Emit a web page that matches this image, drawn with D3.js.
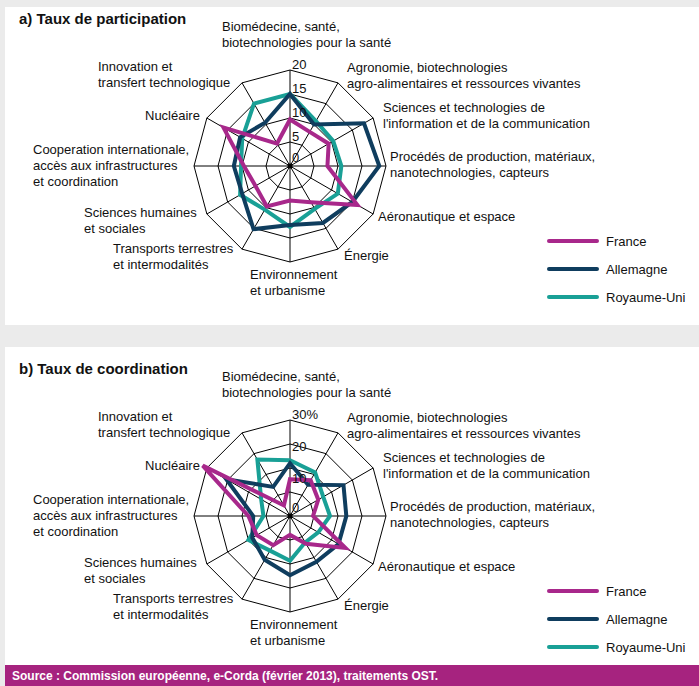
<!DOCTYPE html>
<html>
<head>
<meta charset="utf-8">
<script src="https://cdn.jsdelivr.net/npm/d3@7"></script>
<style>
  body { margin: 0; background: #ebebeb; }
  svg { display: block; font-family: "Liberation Sans", Arial, sans-serif; }
</style>
</head>
<body>
<svg id="chart" width="699" height="686"></svg>
<script>
// axis labels, clockwise from the top
let categories = [
    ["Biomédecine, santé,", "biotechnologies pour la santé"],
    ["Agronomie, biotechnologies", "agro-alimentaires et ressources vivantes"],
    ["Sciences et technologies de", "l'information et de la communication"],
    ["Procédés de production, matériaux,", "nanotechnologies, capteurs"],
    ["Aéronautique et espace"],
    ["Énergie"],
    ["Environnement", "et urbanisme"],
    ["Transports terrestres", "et intermodalités"],
    ["Sciences humaines", "et sociales"],
    ["Cooperation internationale,", "accès aux infrastructures", "et coordination"],
    ["Nucléaire"],
    ["Innovation et", "transfert technologique"]
]

let seriesNames = ["France", "Allemagne", "Royaume-Uni"]

// a) taux de participation
let participationFrance = [9.7, 8.2, 9.3, 7.8, 16.2, 8.7, 7.2, 9.7, 8.3, 9.6, 16, 5.4]
let participationAllemagne = [15, 10, 17.8, 18.6, 15, 13.7, 12.3, 15.2, 11.5, 11.7, 12, 10.4]
let participationRoyaumeUni = [15, 10.8, 10.4, 10.7, 11.5, 10.3, 12.7, 10.5, 12, 10.2, 11.5, 15]
let participationTicks = [0, 5, 10, 15, 20]
let participationTickLabels = ["0", "5", "10", "15", "20"]

// b) taux de coordination
let coordinationFrance = [11.5, 12.9, 10.2, 7.2, 20, 10, 5.9, 10.5, 12, 13, 31.5, 3.8]
let coordinationAllemagne = [16.5, 11.3, 19.3, 17.6, 17.5, 16.5, 18.5, 15.8, 13.6, 11.5, 23, 10.5]
let coordinationRoyaumeUni = [17.4, 15.7, 12, 12.5, 10.2, 9.5, 14, 12.5, 15, 8.3, 10.4, 20.4]
let coordinationTicks = [0, 10, 20, 30]
let coordinationTickLabels = ["0", "10", "20", "30%"]

let colors = {
    "France": "#a8288b",
    "Allemagne": "#0f3d5e",
    "Royaume-Uni": "#19a096"
}

// label anchor offsets from the chart centre (left edge, first baseline)
let labelOffsets = [
    [-68, -135], [57, -94], [93, -54], [100, -5], [88, 55], [54, 94],
    [-40, 113], [-177, 87], [-206, 51], [-257, -12], [-145, -46], [-192, -95]
]

let svg = d3.select('#chart')
let radius = 96
let lineHeight = 16

// background panels
svg.append('rect').attr('x', 5).attr('y', 7).attr('width', 694).attr('height', 318).attr('fill', '#fff')
svg.append('rect').attr('x', 5).attr('y', 347).attr('width', 694).attr('height', 318).attr('fill', '#fff')
svg.append('rect').attr('x', 5).attr('y', 665).attr('width', 694).attr('height', 21).attr('fill', '#a6237f')
svg.append('text')
    .attr('x', 12).attr('y', 680)
    .attr('fill', '#fff').attr('font-size', 12).attr('font-weight', 'bold')
    .text('Source : Commission européenne, e-Corda (février 2013), traitements OST.')

function drawRadar(top, title, series, ticks, tickLabels) {
    let cx = 290
    let cy = top + 166
    let max = ticks[ticks.length - 1]
    let n = categories.length
    let angle = i => i * 2 * Math.PI / n

    let rScale = d3.scaleLinear()
        .domain([0, max])
        .range([0, radius])

    let g = svg.append('g')
        .attr('transform', `translate(${cx},${cy})`)

    //title
    svg.append('text')
        .attr('x', 19).attr('y', top + 24)
        .attr('font-size', 15).attr('font-weight', 'bold')
        .attr('fill', '#111')
        .text(title)

    // rings (4 dodecagons)
    let ringLine = d3.lineRadial()
        .angle((d, i) => angle(i))
        .radius(d => d)
        .curve(d3.curveLinearClosed)
    d3.range(1, 5).forEach(k => {
        g.append('path')
            .attr('d', ringLine(d3.range(n).map(() => radius * k / 4)))
            .attr('fill', 'none')
            .attr('stroke', '#000')
            .attr('stroke-width', 1)
    })

    // spokes
    g.selectAll('.spoke')
        .data(d3.range(n))
        .enter()
        .append('line')
        .attr('x1', 0).attr('y1', 0)
        .attr('x2', i => radius * Math.sin(angle(i)))
        .attr('y2', i => -radius * Math.cos(angle(i)))
        .attr('stroke', '#000')
        .attr('stroke-width', 1)
    g.append('circle').attr('r', 2.5).attr('fill', '#000')

    // series lines
    let valueLine = d3.lineRadial()
        .angle((d, i) => angle(i))
        .radius(d => rScale(d))
        .curve(d3.curveLinearClosed)
    series.slice().reverse().forEach(s => {
        g.append('path')
            .attr('d', valueLine(s.values))
            .attr('fill', 'none')
            .attr('stroke', colors[s.name])
            .attr('stroke-width', 4)
            .attr('stroke-linejoin', 'miter')
    })

    // tick labels on the vertical axis
    ticks.forEach((t, i) => {
        g.append('text')
            .attr('x', 2)
            .attr('y', -Math.max(rScale(t), 3) - 1)
            .attr('font-size', 13)
            .attr('fill', '#111')
            .text(tickLabels[i])
    })

    // category labels
    categories.forEach((lines, i) => {
        let t = g.append('text')
            .attr('font-size', 13)
            .attr('fill', '#111')
        lines.forEach((line, j) => {
            t.append('tspan')
                .attr('x', labelOffsets[i][0])
                .attr('y', labelOffsets[i][1] + j * lineHeight)
                .text(line)
        })
    })

    // legend
    series.forEach((s, i) => {
        let y = top + 241 + i * 28
        svg.append('line')
            .attr('x1', 549).attr('x2', 597)
            .attr('y1', y).attr('y2', y)
            .attr('stroke', colors[s.name])
            .attr('stroke-width', 4)
            .attr('stroke-linecap', 'round')
        svg.append('text')
            .attr('x', 606).attr('y', y + 5)
            .attr('font-size', 13)
            .attr('fill', '#111')
            .text(s.name)
    })
}

drawRadar(0, 'a) Taux de participation', [
    {name: seriesNames[0], values: participationFrance},
    {name: seriesNames[1], values: participationAllemagne},
    {name: seriesNames[2], values: participationRoyaumeUni}
], participationTicks, participationTickLabels)

drawRadar(350, 'b) Taux de coordination', [
    {name: seriesNames[0], values: coordinationFrance},
    {name: seriesNames[1], values: coordinationAllemagne},
    {name: seriesNames[2], values: coordinationRoyaumeUni}
], coordinationTicks, coordinationTickLabels)
</script>
</body>
</html>
